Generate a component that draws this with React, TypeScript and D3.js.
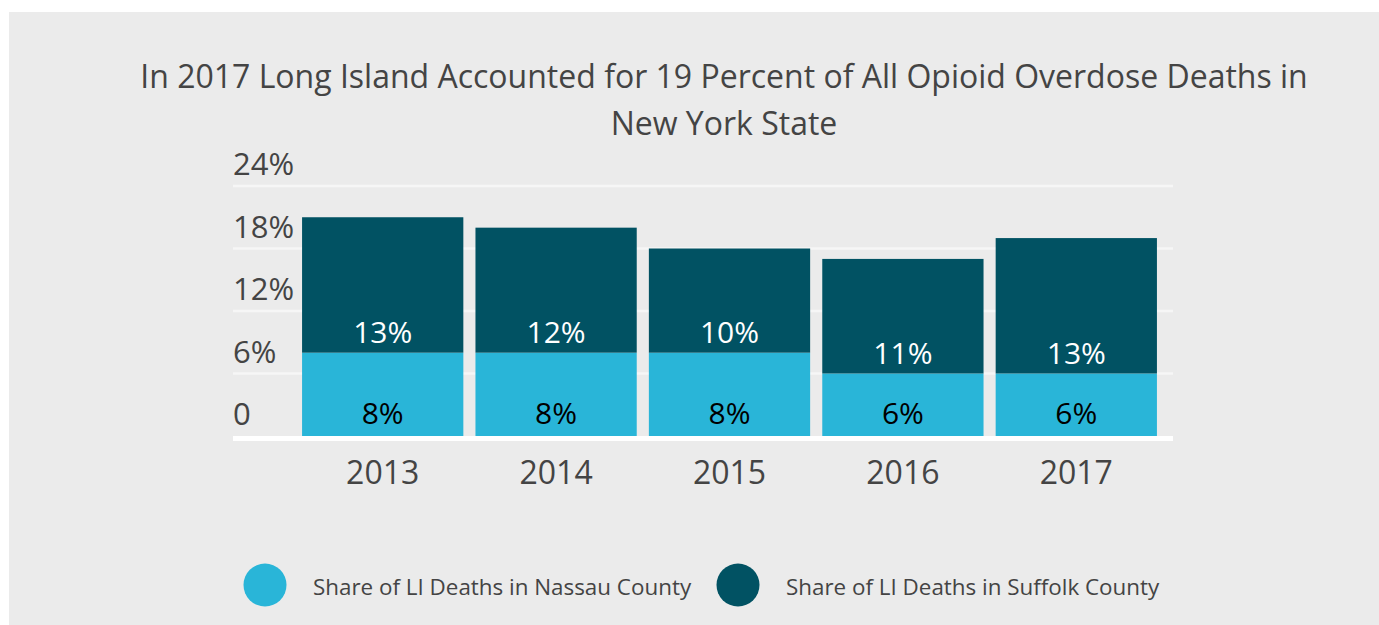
import React from "react";
import * as d3 from "d3";

const years = ["2013", "2014", "2015", "2016", "2017"];
const nassau = [8, 8, 8, 6, 6];
const suffolk = [13, 12, 10, 11, 13];
const yTicks = [0, 6, 12, 18, 24];
const titleLines = [
  "In 2017 Long Island Accounted for 19 Percent of All Opioid Overdose Deaths in",
  "New York State",
];
const seriesNames = ["Share of LI Deaths in Nassau County", "Share of LI Deaths in Suffolk County"];

const W = 1379;
const H = 625;
const LIGHT = "#29b5d8";
const DARK = "#015263";
const TEXT = "#444444";
const FONT = "'Open Sans', 'Noto Sans', sans-serif";

export default function App() {
  const x = d3.scaleBand<string>().domain(years).range([296, 1163]).paddingInner(0.07).paddingOuter(0.035);
  const y = d3.scaleLinear().domain([0, 24]).range([436, 186]);
  const gridX0 = 233;
  const gridX1 = 1173;

  return (
    <svg width={W} height={H} style={{ position: "absolute", left: 0, top: 0, fontFamily: FONT }}>
      <rect x={0} y={0} width={W} height={H} fill="#ffffff" />
      <rect x={9} y={12} width={W - 9} height={H - 12} fill="#ebebeb" />
      {titleLines.map((t, i) => (
        <text key={i} x={724} y={88 + i * 47} textAnchor="middle" fontSize={32} fill={TEXT}>
          {t}
        </text>
      ))}
      {yTicks.filter((v) => v > 0).map((v) => (
        <line key={v} x1={gridX0} x2={gridX1} y1={y(v)} y2={y(v)} stroke="#f6f6f6" strokeWidth={2.5} />
      ))}
      {yTicks.map((v) => (
        <text key={"t" + v} x={gridX0} y={y(v) - 11} fontSize={31} fill={TEXT}>
          {v === 0 ? "0" : `${v}%`}
        </text>
      ))}
      {years.map((yr, i) => {
        const bx = x(yr)!;
        const bw = x.bandwidth();
        const n = nassau[i];
        const s = suffolk[i];
        return (
          <g key={yr}>
            <rect x={bx} y={y(n)} width={bw} height={y(0) - y(n)} fill={LIGHT} />
            <rect x={bx} y={y(n + s)} width={bw} height={y(n) - y(n + s)} fill={DARK} />
            <text x={bx + bw / 2} y={y(0) - 12} textAnchor="middle" fontSize={30} fill="#000000">
              {`${n}%`}
            </text>
            <text x={bx + bw / 2} y={y(n) - 10} textAnchor="middle" fontSize={30} fill="#ffffff">
              {`${s}%`}
            </text>
            <text x={bx + bw / 2} y={484} textAnchor="middle" fontSize={32} fill={TEXT}>
              {yr}
            </text>
          </g>
        );
      })}
      <line x1={gridX0} x2={gridX1} y1={y(0) + 2.5} y2={y(0) + 2.5} stroke="#ffffff" strokeWidth={5} />
      {seriesNames.map((name, i) => {
        const cx = i === 0 ? 265 : 738;
        return (
          <g key={name}>
            <circle cx={cx} cy={585} r={21.5} fill={i === 0 ? LIGHT : DARK} />
            <text x={cx + 48} y={586} dominantBaseline="central" fontSize={22.4} fill={TEXT}>
              {name}
            </text>
          </g>
        );
      })}
    </svg>
  );
}
